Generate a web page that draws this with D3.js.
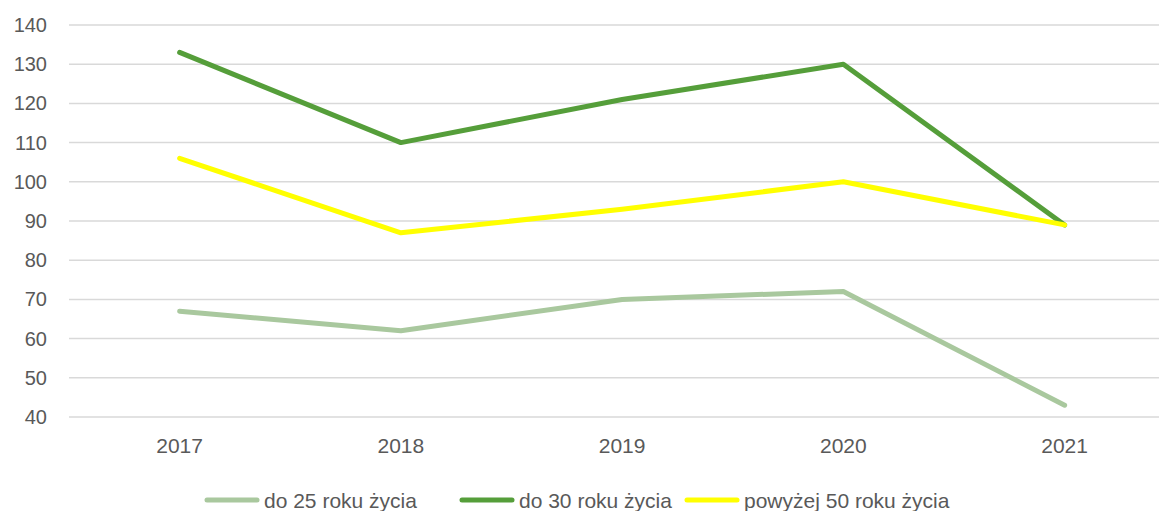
<!DOCTYPE html>
<html>
<head>
<meta charset="utf-8">
<script src="https://cdn.jsdelivr.net/npm/d3@7"></script>
<style>
  body { margin: 0; background: #fff; }
  text { font-family: "Liberation Sans", Arial, sans-serif; fill: #595959; }
</style>
</head>
<body>
<div id="container"></div>
<script>
// chart data
var years = ["2017", "2018", "2019", "2020", "2021"];
var seriesNames = ["do 25 roku życia", "do 30 roku życia", "powyżej 50 roku życia"];
var do25 = [67, 62, 70, 72, 43];
var do30 = [133, 110, 121, 130, 89];
var pow50 = [106, 87, 93, 100, 89];
var yTicks = [40, 50, 60, 70, 80, 90, 100, 110, 120, 130, 140];

var colors = ["#a9c89e", "#559e3a", "#ffff00"];
var allSeries = [do25, do30, pow50];

var w = 1159, h = 511;

var svg = d3.select("#container")
  .append("svg")
  .attr("width", w)
  .attr("height", h);

// scales
var x = d3.scaleBand()
  .domain(years)
  .range([69, 69 + 5 * 221.25]);

var y = d3.scaleLinear()
  .domain([40, 140])
  .range([417, 25]);

// gridlines
svg.append("g")
  .selectAll("line")
  .data(yTicks)
  .join("line")
  .attr("x1", 69)
  .attr("x2", w)
  .attr("y1", function(d) { return y(d); })
  .attr("y2", function(d) { return y(d); })
  .attr("stroke", "#d9d9d9")
  .attr("stroke-width", 1.5);

// y axis labels
var yAxis = svg.append("g")
  .attr("transform", "translate(47,0)")
  .call(d3.axisLeft(y).tickValues(yTicks).tickSize(0).tickPadding(0));
yAxis.select(".domain").remove();
yAxis.selectAll("text")
  .style("font-size", "20px")
  .attr("fill", "#595959");

// x axis labels
var xAxis = svg.append("g")
  .attr("transform", "translate(0,430)")
  .call(d3.axisBottom(x).tickSize(0).tickPadding(8));
xAxis.select(".domain").remove();
xAxis.selectAll("text")
  .style("font-size", "21px")
  .attr("fill", "#595959");

// lines
var line = d3.line()
  .x(function(d, i) { return x(years[i]) + x.bandwidth() / 2; })
  .y(function(d) { return y(d); });

svg.append("g")
  .selectAll("path")
  .data(allSeries)
  .join("path")
  .attr("d", line)
  .attr("fill", "none")
  .attr("stroke", function(d, i) { return colors[i]; })
  .attr("stroke-width", 5)
  .attr("stroke-linecap", "round")
  .attr("stroke-linejoin", "round");

// legend
var legendX = [207, 462, 687];
var legend = svg.append("g")
  .selectAll("g")
  .data(seriesNames)
  .join("g")
  .attr("transform", function(d, i) { return "translate(" + legendX[i] + ",500)"; });

legend.append("line")
  .attr("x1", 0)
  .attr("x2", 50)
  .attr("stroke", function(d, i) { return colors[i]; })
  .attr("stroke-width", 5)
  .attr("stroke-linecap", "round");

legend.append("text")
  .attr("x", 57)
  .attr("y", 8)
  .style("font-size", "21px")
  .text(function(d) { return d; });
</script>
</body>
</html>
